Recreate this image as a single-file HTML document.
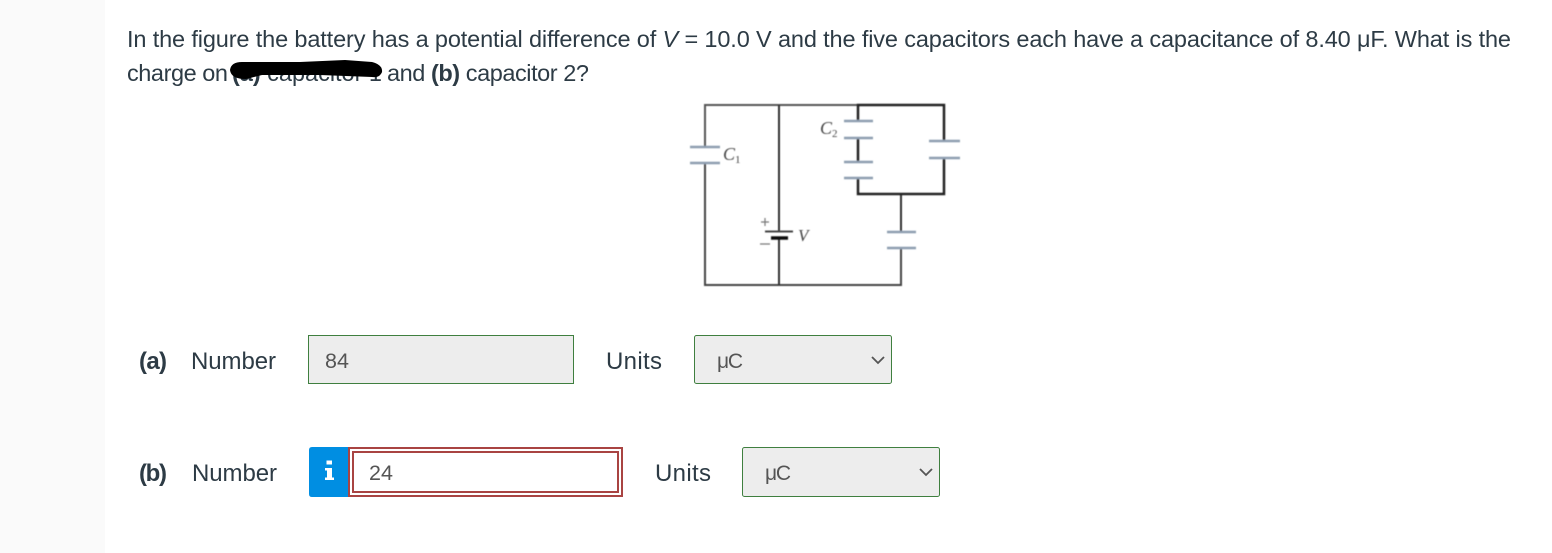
<!DOCTYPE html>
<html lang="en">
<head>
<meta charset="utf-8">
<title>Capacitor circuit question</title>
<style>
html,body{margin:0;padding:0;background:#fafafa;width:1552px;height:553px;overflow:hidden}
svg{display:block}
text{font-family:"Liberation Sans",sans-serif;fill:#2d3b45}
.in{fill:#555}
.w{stroke:#333;fill:none}
.p{stroke:#8e9eb0;stroke-width:2.5}
.m{font-family:"Liberation Serif",serif;font-style:italic;fill:#444}
</style>
</head>
<body>
<svg width="1552" height="553" viewBox="0 0 1552 553" xmlns="http://www.w3.org/2000/svg">
<defs><filter id="b" x="-5%" y="-5%" width="110%" height="110%"><feGaussianBlur stdDeviation="0.45"/></filter></defs>
<rect x="0" y="0" width="1552" height="553" fill="#fafafa"/>
<rect x="105" y="0" width="1447" height="553" fill="#ffffff"/>

<text x="127" y="47" font-size="23.5" textLength="1384" lengthAdjust="spacing">In the figure the battery has a potential difference of <tspan font-style="italic">V</tspan> = 10.0 V and the five capacitors each have a capacitance of 8.40 μF. What is the</text>
<text x="127" y="81" font-size="23.5" textLength="101" lengthAdjust="spacing">charge on</text>
<text x="232" y="81" font-size="23.5" textLength="150" lengthAdjust="spacing"><tspan font-weight="bold">(a)</tspan> capacitor 1</text>
<text x="387" y="81" font-size="23.5" textLength="202" lengthAdjust="spacing">and <tspan font-weight="bold">(b)</tspan> capacitor 2?</text>
<path d="M230 70 Q231 62 242 62 L300 62 L345 60 L372 62 Q383 65 382 72 Q380 78 372 77 L320 75 L262 75 L246 79 Q231 79 230 70 Z" fill="#000"/>

<g filter="url(#b)">
<g class="w" stroke-width="2">
<path d="M705 147V105H858" stroke="#555"/>
<path d="M705 163V285H901V248" stroke="#444"/>
<path d="M779 105V231M779 238V285"/>
<path d="M901 232V194" />
</g>
<g class="w" stroke-width="2.5" stroke-linejoin="miter">
<path d="M858 121V105H944V141" stroke="#222"/>
<path d="M944 158V194H858V178" stroke="#222"/>
<path d="M858 138V162" stroke="#222"/>
</g>
<g class="p">
<path d="M690 147H720M690 163H720"/>
<path d="M844 121H873M844 138H873M844 162H873M844 178H873"/>
<path d="M929 141H960M929 158H960"/>
<path d="M887 232H916M887 248H916"/>
</g>
<path d="M765 231.500H793" stroke="#444" stroke-width="2"/>
<path d="M771 238H788" stroke="#111" stroke-width="3.500"/>
<path d="M761 222H769M765 218V226M760 244H770" stroke="#777" stroke-width="1.200"/>
<text class="m" x="723" y="160" font-size="18">C<tspan font-size="11" font-style="normal" dy="3">1</tspan></text>
<text class="m" x="820" y="134" font-size="18">C<tspan font-size="11" font-style="normal" dy="3">2</tspan></text>
<text class="m" x="798" y="241" font-size="17">V</text>
</g>

<text x="139" y="369" font-size="24" font-weight="bold" textLength="28" lengthAdjust="spacing">(a)</text>
<text x="191" y="369" font-size="24" textLength="85" lengthAdjust="spacing">Number</text>
<rect x="308.500" y="335.500" width="265" height="48" fill="#ededed" stroke="#3f7f3f"/>
<text class="in" x="325" y="368" font-size="21.500" textLength="24" lengthAdjust="spacing">84</text>
<text x="606" y="369" font-size="24" textLength="56" lengthAdjust="spacing">Units</text>
<rect x="694.500" y="335.500" width="197" height="48" rx="2" fill="#ededed" stroke="#3f7f3f"/>
<text class="in" x="717" y="368" font-size="21" textLength="26" lengthAdjust="spacing">μC</text>
<path d="M872 357L878 363L884 357" fill="none" stroke="#555" stroke-width="1.800"/>

<text x="139" y="481" font-size="24" font-weight="bold" textLength="28" lengthAdjust="spacing">(b)</text>
<text x="192" y="481" font-size="24" textLength="85" lengthAdjust="spacing">Number</text>
<path d="M312 447H349V497H312Q309 497 309 494V450Q309 447 312 447Z" fill="#008ee2"/>
<path d="M326.500 464.500h5.500v-4h-5.500zM325 468h7v9.500h2v2.500h-9v-2.500h2v-7h-2z" fill="#fff"/>
<rect x="349" y="448" width="273" height="48" fill="#fff" stroke="#a94442" stroke-width="2"/>
<rect x="353" y="452" width="265" height="40" fill="#fff" stroke="#a94442" stroke-width="2"/>
<text class="in" x="369" y="480" font-size="21.500" textLength="24" lengthAdjust="spacing">24</text>
<text x="655" y="481" font-size="24" textLength="56" lengthAdjust="spacing">Units</text>
<rect x="742.500" y="447.500" width="197" height="49" rx="2" fill="#ededed" stroke="#3f7f3f"/>
<text class="in" x="765" y="480" font-size="21" textLength="26" lengthAdjust="spacing">μC</text>
<path d="M920 469L926 475L932 469" fill="none" stroke="#555" stroke-width="1.800"/>
</svg>
</body>
</html>
